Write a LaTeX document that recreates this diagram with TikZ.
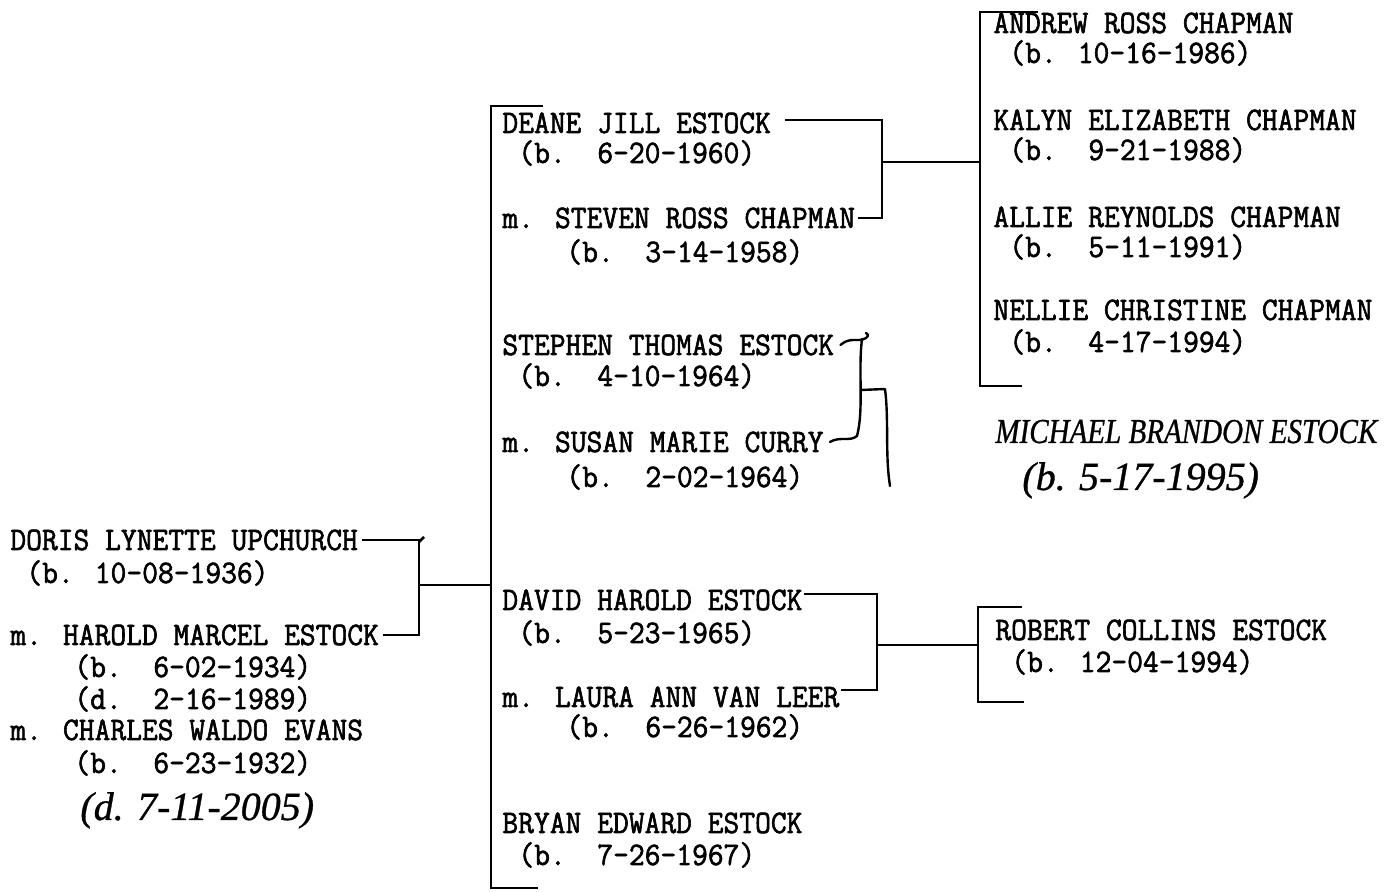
\documentclass[tikz,border=0pt]{standalone}
\usepackage{fontspec}
\newfontfamily\typewr[FakeStretch=0.935,FakeBold=1.8]{Latin Modern Mono}
\newfontfamily\handwr[FakeBold=0.8]{Liberation Serif}
\newfontfamily\handnarrow[FakeBold=0.8,FakeStretch=0.83]{Liberation Serif}

\tikzset{
  typed/.style={font=\typewr\fontsize{16.4}{19}\selectfont,inner sep=0pt,anchor=base west},
  penned/.style={font=\handwr\itshape\fontsize{20}{22}\selectfont,inner sep=0pt,anchor=base west},
  tie/.style={line width=1.4pt},
  pen/.style={line width=1.2pt,line cap=round,line join=round},
}

\begin{document}
\begin{tikzpicture}[x=0.5pt,y=-0.5pt]
\useasboundingbox (0,0) rectangle (1399,892);
% parents
\node[typed] (doris) at (10,550) {DORIS LYNETTE UPCHURCH};
\node[typed] (dorisb) at (26,583) {(b. 10-08-1936)};
\node[typed] (harold) at (10,645) {m. HAROLD MARCEL ESTOCK};
\node[typed] (haroldb) at (74,677) {(b.~~6-02-1934)};
\node[typed] (haroldd) at (74,709) {(d.~~2-16-1989)};
\node[typed] (charles) at (10,740) {m. CHARLES WALDO EVANS};
\node[typed] (charlesb) at (74,773) {(b.~~6-23-1932)};
\node[penned] (charlesd) at (80,820) {(d. 7-11-2005)};
\coordinate (pj) at (419,585);
\draw[tie] ([xshift=2]doris.east) -| (pj) |- ([xshift=2]harold.east);
\draw[tie] (419,542) -- ++(5,-5);
% children
\node[typed] (deane) at (502,133) {DEANE JILL ESTOCK};
\node[typed] (deaneb) at (518,163) {(b.~~6-20-1960)};
\node[typed] (steven) at (502,228) {m. STEVEN ROSS CHAPMAN};
\node[typed] (stevenb) at (566,262) {(b.~~3-14-1958)};
\node[typed] (stephen) at (502,355) {STEPHEN THOMAS ESTOCK};
\node[typed] (stephenb) at (518,386) {(b.~~4-10-1964)};
\node[typed] (susan) at (502,452) {m. SUSAN MARIE CURRY};
\node[typed] (susanb) at (566,487) {(b.~~2-02-1964)};
\node[typed] (david) at (502,610) {DAVID HAROLD ESTOCK};
\node[typed] (davidb) at (518,643) {(b.~~5-23-1965)};
\node[typed] (laura) at (502,707) {m. LAURA ANN VAN LEER};
\node[typed] (laurab) at (566,737) {(b.~~6-26-1962)};
\node[typed] (bryan) at (502,833) {BRYAN EDWARD ESTOCK};
\node[typed] (bryanb) at (518,865) {(b.~~7-26-1967)};
\coordinate (ktop) at (491,106);
\coordinate (kbot) at (491,888);
\draw[tie] (543,106) -- (ktop) -- (kbot) -- (538,888);
\draw[tie] (pj) -- (pj -| ktop);
% Deane + Steven
\coordinate (dj) at (882,162);
\draw[tie] ([shift={(14,-3)}]deane.east) -| (dj) |- ([xshift=1]steven.east);
% Stephen + Susan
\coordinate (sj) at (861,390);
\coordinate (sx) at (890,486);
\draw[pen] ([xshift=3]stephen.east) .. controls (851,336) and (858,343) .. (866,338)
  .. controls (869,336) and (868,333) .. (866,333);
\draw[pen] (862,339) .. controls (858,370) and (864,410) .. (857,436)
  .. controls (850,442) and (840,436) .. ([xshift=3]susan.east);
\draw[pen] (sj) -- (885,389) .. controls (889,420) and (885,455) .. (sx);
% David + Laura
\coordinate (vj) at (877,645);
\draw[tie] ([shift={(1,-6)}]david.east) -| (vj) |- ([shift={(1,-7)}]laura.east);
% grandchildren
\node[typed] (andrew) at (993,33) {ANDREW ROSS CHAPMAN};
\node[typed] (andrewb) at (1009,63) {(b. 10-16-1986)};
\node[typed] (kalyn) at (993,130) {KALYN ELIZABETH CHAPMAN};
\node[typed] (kalynb) at (1009,160) {(b.~~9-21-1988)};
\node[typed] (allie) at (993,227) {ALLIE REYNOLDS CHAPMAN};
\node[typed] (allieb) at (1009,257) {(b.~~5-11-1991)};
\node[typed] (nellie) at (993,320) {NELLIE CHRISTINE CHAPMAN};
\node[typed] (nellieb) at (1009,352) {(b.~~4-17-1994)};
\coordinate (gtop) at (980,12);
\draw[tie] (1038,12) -- (gtop) -- (980,386) -- (1022,386);
\draw[tie] (dj) -- (dj -| gtop);
\node[penned,font=\handnarrow\itshape\fontsize{17.5}{20}\selectfont] (michael) at (995,443) {MICHAEL BRANDON ESTOCK};
\node[penned] (michaelb) at (1022,490) {(b. 5-17-1995)};
\node[typed] (robert) at (995,640) {ROBERT COLLINS ESTOCK};
\node[typed] (robertb) at (1011,672) {(b. 12-04-1994)};
\coordinate (rtop) at (978,607);
\draw[tie] (1022,607) -- (rtop) -- (978,702) -- (1024,702);
\draw[tie] (vj) -- (vj -| rtop);
\end{tikzpicture}
\end{document}
